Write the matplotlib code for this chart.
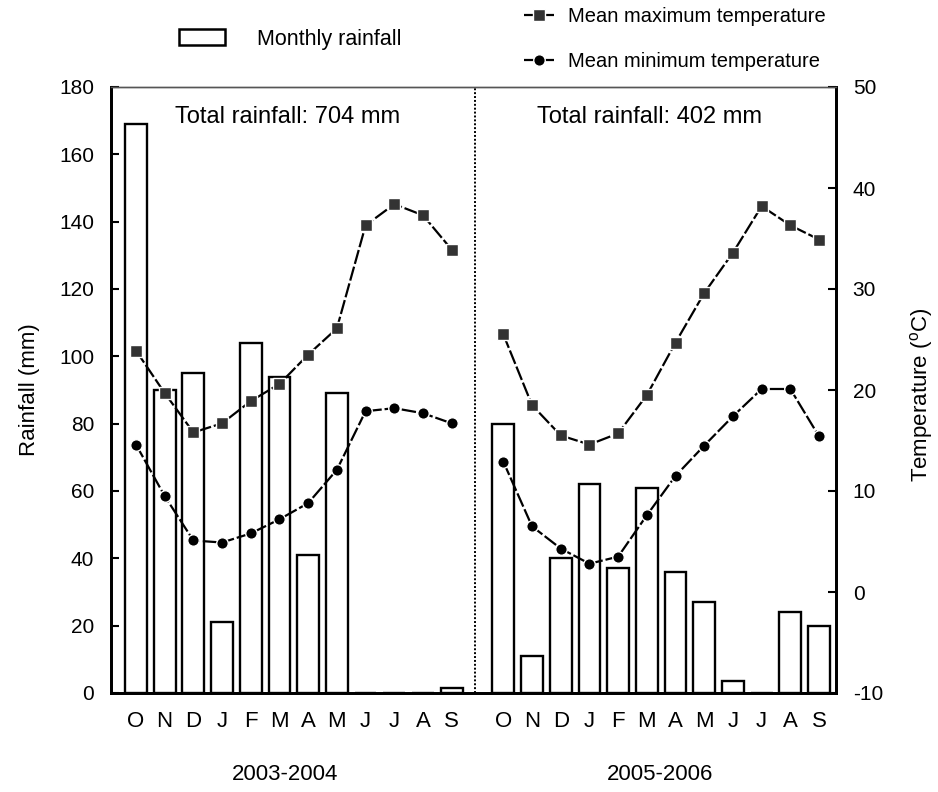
import matplotlib
matplotlib.use("Agg")
import matplotlib.pyplot as plt
from matplotlib.patches import Patch
from matplotlib.lines import Line2D
import numpy as np

plt.rcParams['font.family'] = ['Liberation Sans', 'DejaVu Sans']
plt.rcParams['mathtext.fontset'] = 'custom'
plt.rcParams['mathtext.rm'] = 'Liberation Sans'
plt.rcParams['axes.unicode_minus'] = False

months = ['O', 'N', 'D', 'J', 'F', 'M', 'A', 'M', 'J', 'J', 'A', 'S']
years = ['2003-2004', '2005-2006']
totals = ['Total rainfall: 704 mm', 'Total rainfall: 402 mm']

rain_0304 = [169, 90, 95, 21, 104, 94, 41, 89, 0, 0, 0, 1.5]
rain_0506 = [80, 11, 40, 62, 37, 61, 36, 27, 3.5, 0, 24, 20]

tmax_0304 = [23.9, 19.7, 15.8, 16.7, 18.9, 20.6, 23.5, 26.1, 36.3, 38.4, 37.3, 33.9]
tmin_0304 = [14.6, 9.5, 5.1, 4.9, 5.8, 7.2, 8.8, 12.1, 17.9, 18.2, 17.7, 16.7]
tmax_0506 = [25.5, 18.5, 15.5, 14.6, 15.7, 19.5, 24.7, 29.6, 33.6, 38.2, 36.3, 34.9]
tmin_0506 = [12.9, 6.5, 4.3, 2.8, 3.5, 7.6, 11.5, 14.5, 17.4, 20.1, 20.1, 15.4]

x1 = np.arange(12)
x2 = np.arange(12) + 12.8
divider = 11.8

fig = plt.figure(figsize=(9.38, 7.92), dpi=100)
ax = fig.add_axes([111/938, 1-693/792, 725/938, 606/792])
ax2 = ax.twinx()

bar_kw = dict(width=0.76, facecolor='white', edgecolor='black', linewidth=1.7)
ax.bar(x1, rain_0304, **bar_kw)
ax.bar(x2, rain_0506, **bar_kw)

line_kw = dict(color='black', linewidth=1.6, dashes=(6.5, 1.3))
max_kw = dict(marker='s', markersize=8.3, markerfacecolor='#333333', markeredgecolor='white', markeredgewidth=1.0)
min_kw = dict(marker='o', markersize=8.3, markerfacecolor='black', markeredgecolor='white', markeredgewidth=1.0)
ax2.plot(x1, tmax_0304, **line_kw, **max_kw)
ax2.plot(x2, tmax_0506, **line_kw, **max_kw)
ax2.plot(x1, tmin_0304, **line_kw, **min_kw)
ax2.plot(x2, tmin_0506, **line_kw, **min_kw)

ax.axvline(divider, color='black', linestyle=(0, (1, 1)), linewidth=1.4)

ax.set_xlim(-0.87, 24.39)
ax.set_ylim(0, 180)
ax.set_yticks(np.arange(0, 181, 20))
ax2.set_ylim(-10, 50)
ax2.set_yticks(np.arange(-10, 51, 10))

ax.set_xticks(np.concatenate([x1, x2]))
ax.set_xticklabels(months + months)

for a in (ax, ax2):
    for s in a.spines.values():
        s.set_linewidth(2)
        s.set_color('black')
    a.spines['top'].set_linewidth(1.0)
    a.spines['top'].set_color('#555555')
ax.tick_params(axis='y', direction='in', length=6, width=1.5, pad=12)
ax2.tick_params(axis='y', direction='in', length=6, width=1.5, pad=12)
ax.tick_params(axis='x', length=0, pad=13)
for lab in ax.get_yticklabels() + ax2.get_yticklabels():
    lab.set_fontsize(15)
for lab in ax.get_xticklabels():
    lab.set_fontsize(16)

ax.text(0.243, 0.950, totals[0], transform=ax.transAxes, ha='center', va='center', fontsize=17)
ax.text(0.743, 0.950, totals[1], transform=ax.transAxes, ha='center', va='center', fontsize=17)

fig.text(285/938, 1-775/792, years[0], ha='center', va='center', fontsize=16)
fig.text(660/938, 1-775/792, years[1], ha='center', va='center', fontsize=16)

fig.text(30/938, 1-390/792, 'Rainfall (mm)', rotation=90, ha='center', va='center', fontsize=16)
fig.text(921/938, 1-395/792, r'Temperature ($^{\rm o}$C)', rotation=90, ha='center', va='center', fontsize=16)

h_bar = Patch(facecolor='white', edgecolor='black', linewidth=1.8)
l1 = fig.legend(handles=[h_bar], labels=['Monthly rainfall'], loc='center left',
                bbox_to_anchor=(160/938, 1-39/792), frameon=False, prop=dict(size=15.5),
                handlelength=2.1, handleheight=0.75, handletextpad=1.5)
h_max = Line2D([], [], **line_kw, **max_kw)
h_min = Line2D([], [], **line_kw, **min_kw)
l2 = fig.legend(handles=[h_max, h_min], labels=['Mean maximum temperature', 'Mean minimum temperature'],
                loc='center left', bbox_to_anchor=(506/938, 1-39/792), frameon=False, prop=dict(size=14.5),
                handlelength=1.5, handletextpad=0.7, labelspacing=1.3)

fig.savefig('out.png', dpi=100)
